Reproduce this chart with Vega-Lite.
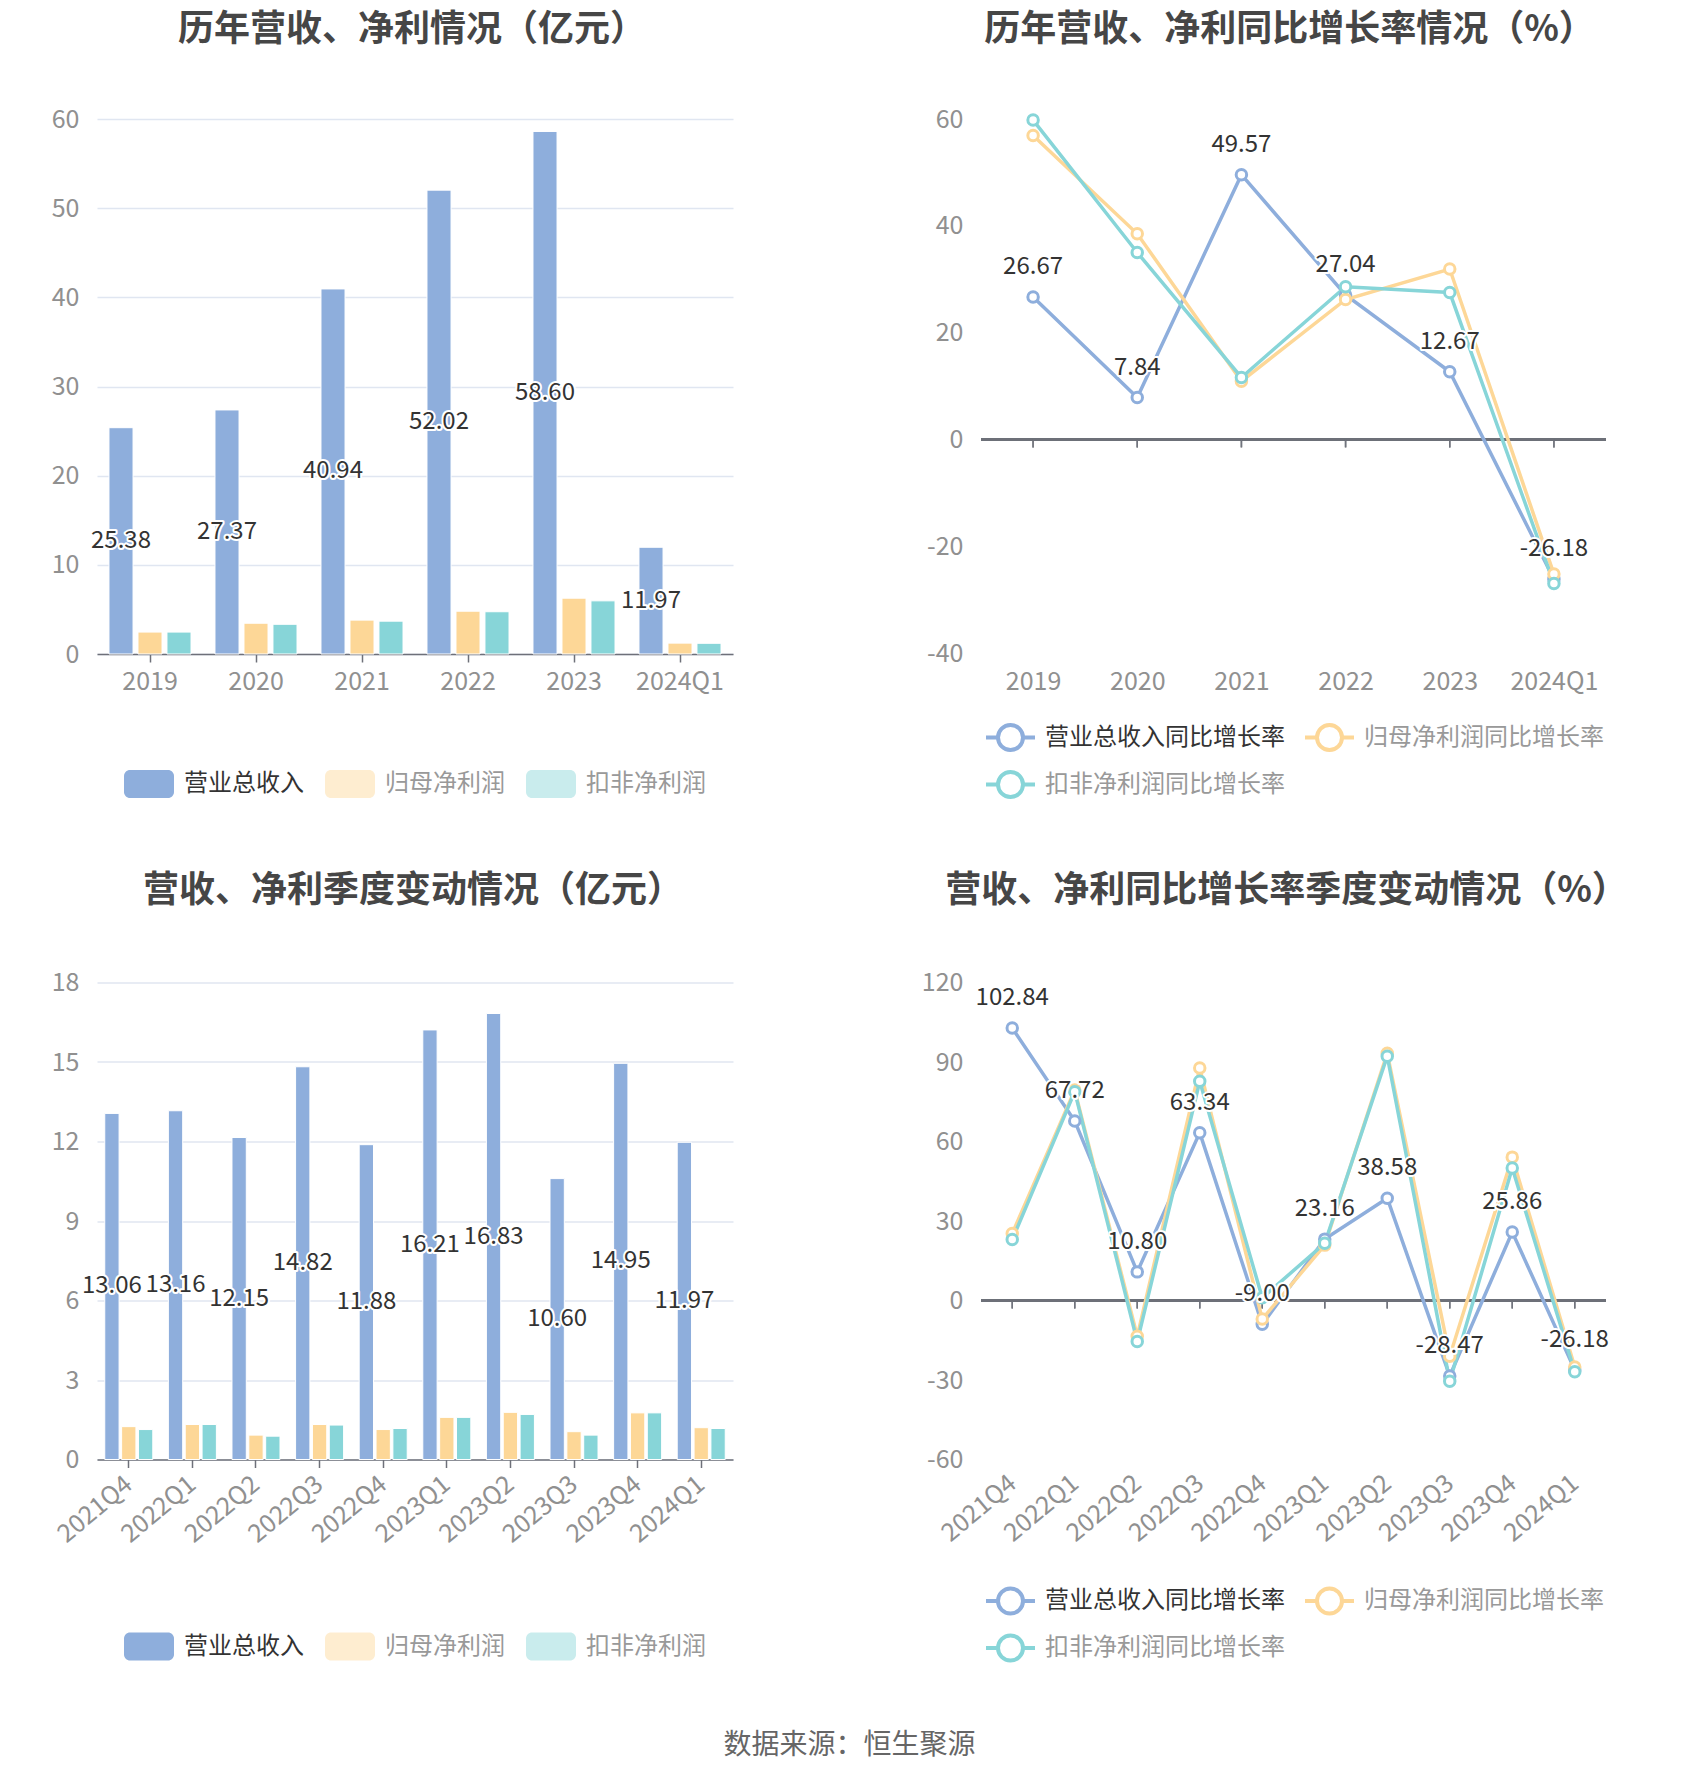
{
  "$schema": "https://vega.github.io/schema/vega-lite/v6.json",
  "background": "white",
  "padding": {"left": 27, "top": 11, "right": 0, "bottom": 10},
  "datasets": {
    "annual": [
      {"period": "2019", "series": "营业总收入", "value": 25.38},
      {"period": "2019", "series": "归母净利润", "value": 2.46},
      {"period": "2019", "series": "扣非净利润", "value": 2.46},
      {"period": "2020", "series": "营业总收入", "value": 27.37},
      {"period": "2020", "series": "归母净利润", "value": 3.45},
      {"period": "2020", "series": "扣非净利润", "value": 3.33},
      {"period": "2021", "series": "营业总收入", "value": 40.94},
      {"period": "2021", "series": "归母净利润", "value": 3.80},
      {"period": "2021", "series": "扣非净利润", "value": 3.68},
      {"period": "2022", "series": "营业总收入", "value": 52.02},
      {"period": "2022", "series": "归母净利润", "value": 4.80},
      {"period": "2022", "series": "扣非净利润", "value": 4.74},
      {"period": "2023", "series": "营业总收入", "value": 58.60},
      {"period": "2023", "series": "归母净利润", "value": 6.26},
      {"period": "2023", "series": "扣非净利润", "value": 5.96},
      {"period": "2024Q1", "series": "营业总收入", "value": 11.97},
      {"period": "2024Q1", "series": "归母净利润", "value": 1.22},
      {"period": "2024Q1", "series": "扣非净利润", "value": 1.20}
    ],
    "annualGrowth": [
      {"period": "2019", "series": "营业总收入同比增长率", "value": 26.67},
      {"period": "2020", "series": "营业总收入同比增长率", "value": 7.84},
      {"period": "2021", "series": "营业总收入同比增长率", "value": 49.57},
      {"period": "2022", "series": "营业总收入同比增长率", "value": 27.04},
      {"period": "2023", "series": "营业总收入同比增长率", "value": 12.67},
      {"period": "2024Q1", "series": "营业总收入同比增长率", "value": -26.18},
      {"period": "2019", "series": "归母净利润同比增长率", "value": 56.9},
      {"period": "2020", "series": "归母净利润同比增长率", "value": 38.5},
      {"period": "2021", "series": "归母净利润同比增长率", "value": 10.9},
      {"period": "2022", "series": "归母净利润同比增长率", "value": 26.2},
      {"period": "2023", "series": "归母净利润同比增长率", "value": 31.9},
      {"period": "2024Q1", "series": "归母净利润同比增长率", "value": -25.2},
      {"period": "2019", "series": "扣非净利润同比增长率", "value": 59.8},
      {"period": "2020", "series": "扣非净利润同比增长率", "value": 35.0},
      {"period": "2021", "series": "扣非净利润同比增长率", "value": 11.6},
      {"period": "2022", "series": "扣非净利润同比增长率", "value": 28.6},
      {"period": "2023", "series": "扣非净利润同比增长率", "value": 27.5},
      {"period": "2024Q1", "series": "扣非净利润同比增长率", "value": -27.0}
    ],
    "quarter": [
      {"period": "2021Q4", "series": "营业总收入", "value": 13.06},
      {"period": "2021Q4", "series": "归母净利润", "value": 1.24},
      {"period": "2021Q4", "series": "扣非净利润", "value": 1.13},
      {"period": "2022Q1", "series": "营业总收入", "value": 13.16},
      {"period": "2022Q1", "series": "归母净利润", "value": 1.32},
      {"period": "2022Q1", "series": "扣非净利润", "value": 1.32},
      {"period": "2022Q2", "series": "营业总收入", "value": 12.15},
      {"period": "2022Q2", "series": "归母净利润", "value": 0.92},
      {"period": "2022Q2", "series": "扣非净利润", "value": 0.88},
      {"period": "2022Q3", "series": "营业总收入", "value": 14.82},
      {"period": "2022Q3", "series": "归母净利润", "value": 1.32},
      {"period": "2022Q3", "series": "扣非净利润", "value": 1.30},
      {"period": "2022Q4", "series": "营业总收入", "value": 11.88},
      {"period": "2022Q4", "series": "归母净利润", "value": 1.13},
      {"period": "2022Q4", "series": "扣非净利润", "value": 1.17},
      {"period": "2023Q1", "series": "营业总收入", "value": 16.21},
      {"period": "2023Q1", "series": "归母净利润", "value": 1.59},
      {"period": "2023Q1", "series": "扣非净利润", "value": 1.59},
      {"period": "2023Q2", "series": "营业总收入", "value": 16.83},
      {"period": "2023Q2", "series": "归母净利润", "value": 1.78},
      {"period": "2023Q2", "series": "扣非净利润", "value": 1.70},
      {"period": "2023Q3", "series": "营业总收入", "value": 10.60},
      {"period": "2023Q3", "series": "归母净利润", "value": 1.05},
      {"period": "2023Q3", "series": "扣非净利润", "value": 0.92},
      {"period": "2023Q4", "series": "营业总收入", "value": 14.95},
      {"period": "2023Q4", "series": "归母净利润", "value": 1.76},
      {"period": "2023Q4", "series": "扣非净利润", "value": 1.76},
      {"period": "2024Q1", "series": "营业总收入", "value": 11.97},
      {"period": "2024Q1", "series": "归母净利润", "value": 1.20},
      {"period": "2024Q1", "series": "扣非净利润", "value": 1.17}
    ],
    "quarterGrowth": [
      {"period": "2021Q4", "series": "营业总收入同比增长率", "value": 102.84},
      {"period": "2022Q1", "series": "营业总收入同比增长率", "value": 67.72},
      {"period": "2022Q2", "series": "营业总收入同比增长率", "value": 10.80},
      {"period": "2022Q3", "series": "营业总收入同比增长率", "value": 63.34},
      {"period": "2022Q4", "series": "营业总收入同比增长率", "value": -9.00},
      {"period": "2023Q1", "series": "营业总收入同比增长率", "value": 23.16},
      {"period": "2023Q2", "series": "营业总收入同比增长率", "value": 38.58},
      {"period": "2023Q3", "series": "营业总收入同比增长率", "value": -28.47},
      {"period": "2023Q4", "series": "营业总收入同比增长率", "value": 25.86},
      {"period": "2024Q1", "series": "营业总收入同比增长率", "value": -26.18},
      {"period": "2021Q4", "series": "归母净利润同比增长率", "value": 25.3},
      {"period": "2022Q1", "series": "归母净利润同比增长率", "value": 79.4},
      {"period": "2022Q2", "series": "归母净利润同比增长率", "value": -13.5},
      {"period": "2022Q3", "series": "归母净利润同比增长率", "value": 87.7},
      {"period": "2022Q4", "series": "归母净利润同比增长率", "value": -7.0},
      {"period": "2023Q1", "series": "归母净利润同比增长率", "value": 20.9},
      {"period": "2023Q2", "series": "归母净利润同比增长率", "value": 93.3},
      {"period": "2023Q3", "series": "归母净利润同比增长率", "value": -21.0},
      {"period": "2023Q4", "series": "归母净利润同比增长率", "value": 54.1},
      {"period": "2024Q1", "series": "归母净利润同比增长率", "value": -25.1},
      {"period": "2021Q4", "series": "扣非净利润同比增长率", "value": 23.0},
      {"period": "2022Q1", "series": "扣非净利润同比增长率", "value": 78.8},
      {"period": "2022Q2", "series": "扣非净利润同比增长率", "value": -15.5},
      {"period": "2022Q3", "series": "扣非净利润同比增长率", "value": 82.7},
      {"period": "2022Q4", "series": "扣非净利润同比增长率", "value": 1.0},
      {"period": "2023Q1", "series": "扣非净利润同比增长率", "value": 21.6},
      {"period": "2023Q2", "series": "扣非净利润同比增长率", "value": 92.2},
      {"period": "2023Q3", "series": "扣非净利润同比增长率", "value": -30.5},
      {"period": "2023Q4", "series": "扣非净利润同比增长率", "value": 50.0},
      {"period": "2024Q1", "series": "扣非净利润同比增长率", "value": -26.9}
    ]
  },
  "vconcat": [
    {
      "hconcat": [
        {
          "width": 636, "height": 535,
          "title": {"text": "历年营收、净利情况（亿元）", "frame": "group", "dx": -3, "offset": 58.5},
          "data": {"name": "annual"},
          "layer": [
            {
              "mark": {"type": "bar", "stroke": "#ffffff", "strokeWidth": 1},
              "encoding": {
                "x": {"field": "period", "type": "nominal", "sort": null, "scale": {"paddingInner": 0.226, "paddingOuter": 0.113}},
                "xOffset": {"field": "series", "type": "nominal", "scale": {"domain": ["营业总收入", "归母净利润", "扣非净利润"], "paddingInner": 0.17}},
                "y": {"field": "value", "type": "quantitative", "scale": {"domain": [0, 60]}, "axis": {"values": [0, 10, 20, 30, 40, 50, 60]}},
                "color": {"field": "series", "type": "nominal", "scale": {"domain": ["营业总收入", "归母净利润", "扣非净利润"], "range": ["#8eaedc", "#fdd797", "#87d5d8"]},
                  "legend": {"orient": "bottom", "direction": "horizontal", "title": null, "offset": 65, "symbolType": "M-0.76,-0.56H0.76A0.24,0.24,0,0,1,1,-0.32V0.32A0.24,0.24,0,0,1,0.76,0.56H-0.76A0.24,0.24,0,0,1,-1,0.32V-0.32A0.24,0.24,0,0,1,-0.76,-0.56Z", "symbolSize": 2500, "symbolStrokeWidth": 0, "labelFontSize": 24, "labelLimit": 400, "labelOffset": 10, "columnPadding": 21, "labelColor": {"expr": "datum.label == '营业总收入' ? '#333333' : '#999999'"}, "symbolOpacity": {"expr": "datum.label == '营业总收入' ? 1 : 0.45"}}}
              }
            },
            {
              "transform": [{"filter": "datum.series == '营业总收入'"}],
              "mark": {"type": "text", "fontSize": 24, "baseline": "middle", "fill": "#ffffff", "stroke": "#ffffff", "strokeWidth": 4, "strokeJoin": "round"},
              "encoding": {
                "x": {"field": "period", "type": "nominal", "sort": null},
                "xOffset": {"field": "series", "type": "nominal", "scale": {"domain": ["营业总收入", "归母净利润", "扣非净利润"]}},
                "y": {"field": "value", "type": "quantitative", "scale": {"domain": [0, 120]}, "axis": null},
                "text": {"field": "value", "type": "quantitative", "format": ".2f"}
              }
            },
            {
              "transform": [{"filter": "datum.series == '营业总收入'"}],
              "mark": {"type": "text", "fontSize": 24, "baseline": "middle", "fill": "#333333"},
              "encoding": {
                "x": {"field": "period", "type": "nominal", "sort": null},
                "xOffset": {"field": "series", "type": "nominal", "scale": {"domain": ["营业总收入", "归母净利润", "扣非净利润"]}},
                "y": {"field": "value", "type": "quantitative", "scale": {"domain": [0, 120]}, "axis": null},
                "text": {"field": "value", "type": "quantitative", "format": ".2f"}
              }
            }
          ],
          "resolve": {"scale": {"y": "independent"}}
        },
        {
          "width": 625, "height": 534,
          "title": {"text": "历年营收、净利同比增长率情况（%）", "frame": "group", "dx": -4, "offset": 58.5},
          "data": {"name": "annualGrowth"},
          "layer": [
            {
              "mark": {"type": "rule", "color": "#6E7079", "strokeWidth": 1.5},
              "encoding": {"y": {"datum": 0, "type": "quantitative", "scale": {"domain": [-40, 60]}, "axis": {"values": [-40, -20, 0, 20, 40, 60]}}}
            },
            {
              "mark": {"type": "tick", "orient": "vertical", "size": 8, "thickness": 1.5, "yOffset": 4, "color": "#6E7079"},
              "encoding": {
                "x": {"field": "period", "type": "nominal", "sort": null, "scale": {"type": "point", "padding": 0.5}, "axis": {"ticks": false, "domain": false, "labelPadding": 16}},
                "y": {"datum": 0, "type": "quantitative"}
              }
            },
            {
              "mark": {"type": "line", "strokeWidth": 3.5},
              "encoding": {
                "x": {"field": "period", "type": "nominal", "sort": null},
                "y": {"field": "value", "type": "quantitative"},
                "color": {"field": "series", "type": "nominal", "sort": null, "scale": {"domain": ["营业总收入同比增长率", "归母净利润同比增长率", "扣非净利润同比增长率"], "range": ["#8eaedc", "#fdd797", "#87d5d8"]},
                  "legend": {"orient": "bottom", "direction": "horizontal", "columns": 2, "title": null, "offset": 17, "symbolType": "M-1,0L-0.51,0M0.51,0L1,0M0.51,0A0.51,0.51,0,1,1,-0.51,0A0.51,0.51,0,1,1,0.51,0", "symbolSize": 2401, "symbolStrokeWidth": 4, "symbolFillColor": "#ffffff", "labelFontSize": 24, "labelLimit": 400, "labelOffset": 8, "columnPadding": 12, "rowPadding": -5, "labelColor": {"expr": "datum.label == '营业总收入同比增长率' ? '#333333' : '#999999'"}, "symbolOpacity": {"expr": "datum.label == '营业总收入同比增长率' ? 1 : 0.45"}}}
              }
            },
            {
              "mark": {"type": "point", "filled": false, "fill": "#ffffff", "fillOpacity": 1, "opacity": 1, "size": 110, "strokeWidth": 3},
              "encoding": {
                "x": {"field": "period", "type": "nominal", "sort": null},
                "y": {"field": "value", "type": "quantitative"},
                "color": {"field": "series", "type": "nominal", "sort": null}
              }
            },
            {
              "transform": [{"filter": "datum.series == '营业总收入同比增长率'"}],
              "mark": {"type": "text", "fontSize": 24, "baseline": "middle", "dy": -30, "fill": "#ffffff", "stroke": "#ffffff", "strokeWidth": 4, "strokeJoin": "round"},
              "encoding": {
                "x": {"field": "period", "type": "nominal", "sort": null},
                "y": {"field": "value", "type": "quantitative"},
                "text": {"field": "value", "type": "quantitative", "format": ".2f"}
              }
            },
            {
              "transform": [{"filter": "datum.series == '营业总收入同比增长率'"}],
              "mark": {"type": "text", "fontSize": 24, "baseline": "middle", "dy": -30, "fill": "#333333"},
              "encoding": {
                "x": {"field": "period", "type": "nominal", "sort": null},
                "y": {"field": "value", "type": "quantitative"},
                "text": {"field": "value", "type": "quantitative", "format": ".2f"}
              }
            }
          ]
        }
      ],
      "spacing": 178,
      "resolve": {"scale": {"color": "independent", "x": "independent", "y": "independent", "xOffset": "independent"}, "legend": {"color": "independent"}}
    },
    {
      "hconcat": [
        {
          "width": 636, "height": 477,
          "title": {"text": "营收、净利季度变动情况（亿元）", "frame": "group", "dx": -2, "offset": 60.8},
          "data": {"name": "quarter"},
          "layer": [
            {
              "mark": {"type": "bar", "stroke": "#ffffff", "strokeWidth": 1},
              "encoding": {
                "x": {"field": "period", "type": "nominal", "sort": null, "scale": {"paddingInner": 0.245, "paddingOuter": 0.122}, "axis": {"labelAngle": -40, "labelAlign": "right", "labelBaseline": "middle", "labelPadding": 13}},
                "xOffset": {"field": "series", "type": "nominal", "scale": {"domain": ["营业总收入", "归母净利润", "扣非净利润"], "paddingInner": 0.15}},
                "y": {"field": "value", "type": "quantitative", "scale": {"domain": [0, 18]}, "axis": {"values": [0, 3, 6, 9, 12, 15, 18]}},
                "color": {"field": "series", "type": "nominal", "scale": {"domain": ["营业总收入", "归母净利润", "扣非净利润"], "range": ["#8eaedc", "#fdd797", "#87d5d8"]},
                  "legend": {"orient": "bottom", "direction": "horizontal", "title": null, "offset": 74, "symbolType": "M-0.76,-0.56H0.76A0.24,0.24,0,0,1,1,-0.32V0.32A0.24,0.24,0,0,1,0.76,0.56H-0.76A0.24,0.24,0,0,1,-1,0.32V-0.32A0.24,0.24,0,0,1,-0.76,-0.56Z", "symbolSize": 2500, "symbolStrokeWidth": 0, "labelFontSize": 24, "labelLimit": 400, "labelOffset": 10, "columnPadding": 21, "labelColor": {"expr": "datum.label == '营业总收入' ? '#333333' : '#999999'"}, "symbolOpacity": {"expr": "datum.label == '营业总收入' ? 1 : 0.45"}}}
              }
            },
            {
              "transform": [{"filter": "datum.series == '营业总收入'"}],
              "mark": {"type": "text", "fontSize": 24, "baseline": "middle", "fill": "#ffffff", "stroke": "#ffffff", "strokeWidth": 4, "strokeJoin": "round"},
              "encoding": {
                "x": {"field": "period", "type": "nominal", "sort": null},
                "xOffset": {"field": "series", "type": "nominal", "scale": {"domain": ["营业总收入", "归母净利润", "扣非净利润"]}},
                "y": {"field": "value", "type": "quantitative", "scale": {"domain": [0, 36]}, "axis": null},
                "text": {"field": "value", "type": "quantitative", "format": ".2f"}
              }
            },
            {
              "transform": [{"filter": "datum.series == '营业总收入'"}],
              "mark": {"type": "text", "fontSize": 24, "baseline": "middle", "fill": "#333333"},
              "encoding": {
                "x": {"field": "period", "type": "nominal", "sort": null},
                "xOffset": {"field": "series", "type": "nominal", "scale": {"domain": ["营业总收入", "归母净利润", "扣非净利润"]}},
                "y": {"field": "value", "type": "quantitative", "scale": {"domain": [0, 36]}, "axis": null},
                "text": {"field": "value", "type": "quantitative", "format": ".2f"}
              }
            }
          ],
          "resolve": {"scale": {"y": "independent"}}
        },
        {
          "width": 625, "height": 477,
          "title": {"text": "营收、净利同比增长率季度变动情况（%）", "frame": "group", "dx": -7, "offset": 60.8},
          "data": {"name": "quarterGrowth"},
          "layer": [
            {
              "mark": {"type": "rule", "color": "#6E7079", "strokeWidth": 1.5},
              "encoding": {"y": {"datum": 0, "type": "quantitative", "scale": {"domain": [-60, 120]}, "axis": {"values": [-60, -30, 0, 30, 60, 90, 120]}}}
            },
            {
              "mark": {"type": "tick", "orient": "vertical", "size": 8, "thickness": 1.5, "yOffset": 4, "color": "#6E7079"},
              "encoding": {
                "x": {"field": "period", "type": "nominal", "sort": null, "scale": {"type": "point", "padding": 0.5}, "axis": {"ticks": false, "domain": false, "labelAngle": -40, "labelAlign": "right", "labelBaseline": "middle", "labelPadding": 20}},
                "y": {"datum": 0, "type": "quantitative"}
              }
            },
            {
              "mark": {"type": "line", "strokeWidth": 3.5},
              "encoding": {
                "x": {"field": "period", "type": "nominal", "sort": null},
                "y": {"field": "value", "type": "quantitative"},
                "color": {"field": "series", "type": "nominal", "sort": null, "scale": {"domain": ["营业总收入同比增长率", "归母净利润同比增长率", "扣非净利润同比增长率"], "range": ["#8eaedc", "#fdd797", "#87d5d8"]},
                  "legend": {"orient": "bottom", "direction": "horizontal", "columns": 2, "title": null, "offset": 28, "symbolType": "M-1,0L-0.51,0M0.51,0L1,0M0.51,0A0.51,0.51,0,1,1,-0.51,0A0.51,0.51,0,1,1,0.51,0", "symbolSize": 2401, "symbolStrokeWidth": 4, "symbolFillColor": "#ffffff", "labelFontSize": 24, "labelLimit": 400, "labelOffset": 8, "columnPadding": 12, "rowPadding": -5, "labelColor": {"expr": "datum.label == '营业总收入同比增长率' ? '#333333' : '#999999'"}, "symbolOpacity": {"expr": "datum.label == '营业总收入同比增长率' ? 1 : 0.45"}}}
              }
            },
            {
              "mark": {"type": "point", "filled": false, "fill": "#ffffff", "fillOpacity": 1, "opacity": 1, "size": 110, "strokeWidth": 3},
              "encoding": {
                "x": {"field": "period", "type": "nominal", "sort": null},
                "y": {"field": "value", "type": "quantitative"},
                "color": {"field": "series", "type": "nominal", "sort": null}
              }
            },
            {
              "transform": [{"filter": "datum.series == '营业总收入同比增长率'"}],
              "mark": {"type": "text", "fontSize": 24, "baseline": "middle", "dy": -30, "fill": "#ffffff", "stroke": "#ffffff", "strokeWidth": 4, "strokeJoin": "round"},
              "encoding": {
                "x": {"field": "period", "type": "nominal", "sort": null},
                "y": {"field": "value", "type": "quantitative"},
                "text": {"field": "value", "type": "quantitative", "format": ".2f"}
              }
            },
            {
              "transform": [{"filter": "datum.series == '营业总收入同比增长率'"}],
              "mark": {"type": "text", "fontSize": 24, "baseline": "middle", "dy": -30, "fill": "#333333"},
              "encoding": {
                "x": {"field": "period", "type": "nominal", "sort": null},
                "y": {"field": "value", "type": "quantitative"},
                "text": {"field": "value", "type": "quantitative", "format": ".2f"}
              }
            }
          ]
        }
      ],
      "spacing": 178,
      "resolve": {"scale": {"color": "independent", "x": "independent", "y": "independent", "xOffset": "independent"}, "legend": {"color": "independent"}}
    }
  ],
  "spacing": 67.5,
  "resolve": {"scale": {"color": "independent", "x": "independent", "y": "independent", "xOffset": "independent"}, "legend": {"color": "independent"}},
  "title": {"text": "数据来源：恒生聚源", "orient": "bottom", "anchor": "middle", "dx": 22, "offset": 63, "fontSize": 28, "fontWeight": "normal", "color": "#666666"},
  "config": {
    "font": "Noto Sans CJK SC",
    "locale": {"number": {"decimal": ".", "thousands": ",", "grouping": [3], "currency": ["", ""], "minus": "-"}},
    "view": {"stroke": null},
    "title": {"fontSize": 36, "fontWeight": "bold", "color": "#464646", "anchor": "middle", "font": "Noto Sans CJK SC"},
    "axisY": {"domain": false, "ticks": false, "labelFontSize": 25, "labelColor": "#909090", "labelPadding": 18, "gridColor": "#e0e6f1", "gridWidth": 1.5, "minExtent": 70, "maxExtent": 70, "title": null},
    "axisX": {"grid": false, "labelFontSize": 25, "labelColor": "#909090", "domainColor": "#6E7079", "domainWidth": 1.5, "tickColor": "#6E7079", "tickSize": 8, "tickWidth": 1.5, "labelPadding": 7, "title": null, "labelAngle": 0},
    "legend": {"layout": {"bottom": {"anchor": "middle"}}}
  }
}
